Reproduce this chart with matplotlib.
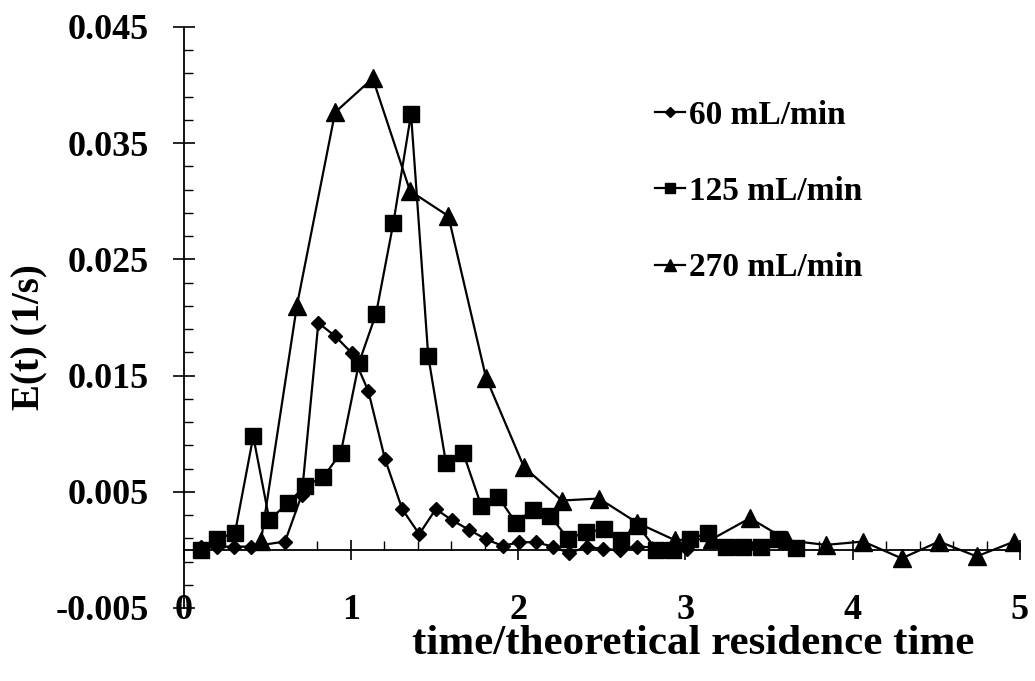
import numpy as np
import matplotlib
matplotlib.use("Agg")
import matplotlib.pyplot as plt
from matplotlib.lines import Line2D
from matplotlib.ticker import FixedLocator, MultipleLocator

plt.rcParams['font.family'] = ['Liberation Serif', 'DejaVu Serif']
plt.rcParams['font.weight'] = 'bold'

# ---- data ----
x60 = [0.103, 0.202, 0.302, 0.402, 0.607, 0.707, 0.806, 0.907, 1.007, 1.105, 1.204,
       1.308, 1.409, 1.508, 1.607, 1.708, 1.808, 1.908, 2.007, 2.107, 2.207, 2.306,
       2.410, 2.509, 2.609, 2.709, 3.008]
y60 = [0.00028, 0.00028, 0.00028, 0.00028, 0.00072, 0.00474, 0.01953, 0.01839, 0.01692,
       0.01365, 0.00783, 0.00349, 0.00136, 0.00351, 0.00254, 0.00172, 0.00092, 0.00034,
       0.00066, 0.00066, 0.00028, -0.00028, 0.00028, 0.00006, 0.0, 0.00028, 0.0001]

x125 = [0.103, 0.202, 0.308, 0.417, 0.513, 0.626, 0.726, 0.836, 0.940, 1.049, 1.151,
        1.254, 1.360, 1.463, 1.569, 1.672, 1.780, 1.880, 1.986, 2.087, 2.192, 2.300,
        2.403, 2.511, 2.616, 2.718, 2.826, 2.926, 3.029, 3.137, 3.241, 3.344, 3.451,
        3.555, 3.659]
y125 = [0.0, 0.00092, 0.00149, 0.00977, 0.00259, 0.00405, 0.00549, 0.00627, 0.00834,
        0.0161, 0.02032, 0.0281, 0.0375, 0.01666, 0.00747, 0.00834, 0.00379, 0.00459,
        0.00235, 0.00345, 0.0029, 0.00095, 0.00153, 0.00176, 0.00086, 0.00204, 0.00003,
        0.00003, 0.00092, 0.00147, 0.00024, 0.00024, 0.00022, 0.00092, 0.0002]

x270 = [0.463, 0.678, 0.906, 1.131, 1.354, 1.583, 1.808, 2.035, 2.261, 2.484, 2.712,
        2.937, 3.162, 3.386, 3.610, 3.839, 4.063, 4.293, 4.516, 4.741, 4.966]
y270 = [0.00078, 0.02103, 0.03765, 0.04058, 0.03089, 0.02873, 0.01483, 0.00713, 0.00425,
        0.00442, 0.00233, 0.00084, 0.00095, 0.00273, 0.00082, 0.00043, 0.00072, -0.00073,
        0.00072, -0.00056, 0.00072]

labels = ['60 mL/min', '125 mL/min', '270 mL/min']
xticks = [0, 1, 2, 3, 4, 5]
yticks = [-0.005, 0.005, 0.015, 0.025, 0.035, 0.045]
ytick_labels = ['-0.005', '0.005', '0.015', '0.025', '0.035', '0.045']

# ---- figure ----
fig = plt.figure(figsize=(10.35, 6.81), dpi=100)
ax = fig.add_axes([0.1773, 0.1072, 0.8082, 0.8532])

lw = 1.6
ax.plot(x60, y60, color='black', lw=lw, marker='D', ms=7.2, mec='black', mfc='black', zorder=3)
ax.plot(x125, y125, color='black', lw=lw, marker='s', ms=11.8, mec='black', mfc='black', zorder=3)
ax.plot(x270, y270, color='black', lw=lw, marker='^', ms=12.5, mec='black', mfc='black', zorder=3)

ax.set_xlim(0, 5)
ax.set_ylim(-0.005, 0.045)

for s in ['top', 'right']:
    ax.spines[s].set_visible(False)
ax.spines['bottom'].set_position(('data', 0))
ax.spines['left'].set_position(('data', 0))
ax.spines['bottom'].set_linewidth(1.3)
ax.spines['left'].set_linewidth(1.3)

# x axis ticks on zero line
ax.xaxis.set_major_locator(FixedLocator(xticks))
ax.xaxis.set_minor_locator(MultipleLocator(0.2))
ax.tick_params(axis='x', which='major', direction='inout', length=15, width=1.2,
               labelbottom=False)
ax.tick_params(axis='x', which='minor', direction='in', length=6.5, width=1.0)

# x tick labels at the bottom of the plot area
sec = ax.secondary_xaxis(0.0)
sec.set_xticks(xticks)
sec.set_xticklabels([str(v) for v in xticks])
sec.spines['bottom'].set_visible(False)
sec.tick_params(axis='x', length=0, pad=-10, labelsize=26)
sec.xaxis.set_minor_locator(FixedLocator([]))

# y axis
ax.yaxis.set_major_locator(FixedLocator(yticks))
ax.set_yticklabels(ytick_labels)
ax.yaxis.set_minor_locator(FixedLocator(np.arange(-0.005, 0.0451, 0.002)))
ax.tick_params(axis='y', which='major', direction='inout', length=16, width=1.2,
               labelsize=26, pad=17)
ax.tick_params(axis='y', which='minor', direction='in', length=6.5, width=1.0)

fig.text(30 / 1035, 1 - 337 / 681, 'E(t) (1/s)', rotation=90, ha='center', va='center',
         fontsize=28, fontweight='bold')
fig.text(693 / 1035, 1 - 644 / 681, 'time/theoretical residence time',
         ha='center', va='center', fontsize=31, fontweight='bold')

handles = [
    Line2D([], [], color='black', lw=lw, marker='D', ms=5),
    Line2D([], [], color='black', lw=lw, marker='s', ms=7.5),
    Line2D([], [], color='black', lw=lw, marker='^', ms=8),
]
leg = ax.legend(handles, labels, loc='upper left', bbox_to_anchor=(0.548, 0.898),
                frameon=False, fontsize=24, handlelength=0.9, handletextpad=0.1,
                labelspacing=1.36, borderaxespad=0)

fig.savefig('out.png', dpi=100)
